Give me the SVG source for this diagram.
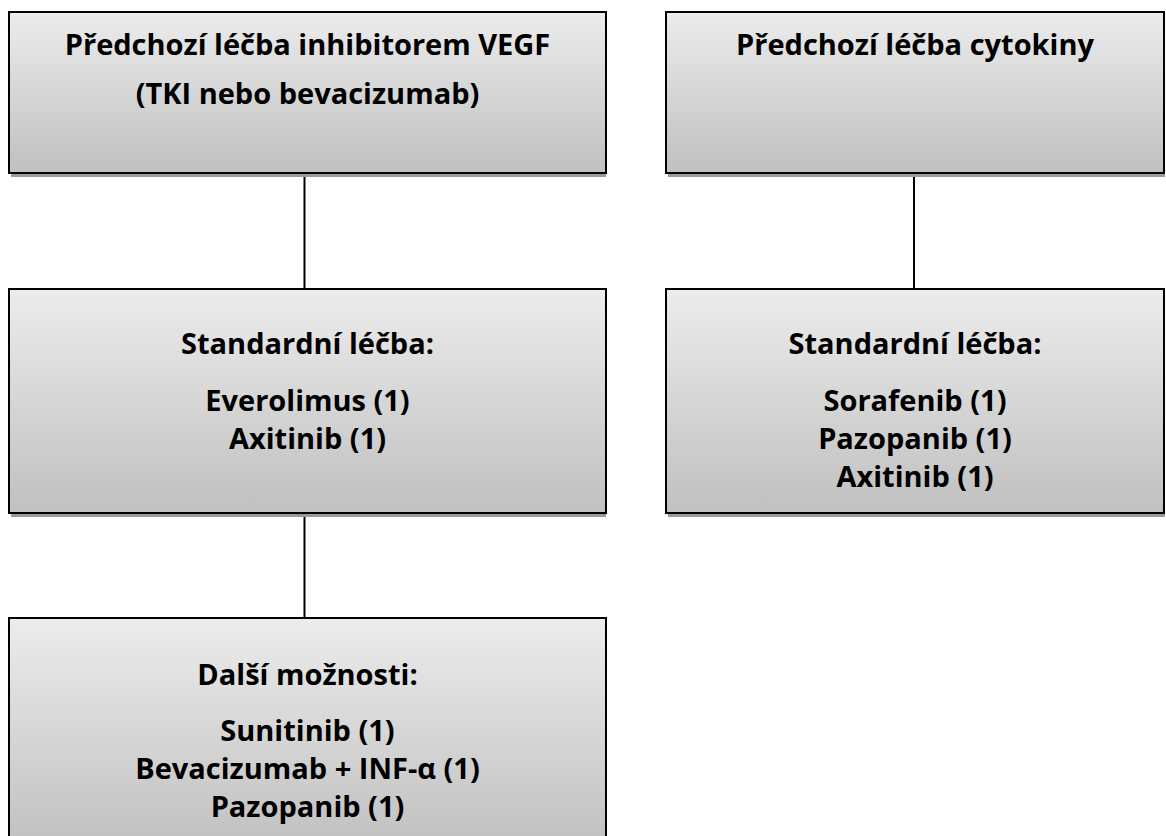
<svg xmlns="http://www.w3.org/2000/svg" width="1166" height="836" viewBox="0 0 1166 836">
  <defs>
    <linearGradient id="boxFill" x1="0" y1="0" x2="0" y2="1">
      <stop offset="0" stop-color="#ececec"/>
      <stop offset="1" stop-color="#c0c0c0"/>
    </linearGradient>
    <style>
      .shadow { fill: #9a9a9a; }
      .box { fill: url(#boxFill); stroke: #000; stroke-width: 2; }
      .label { font-family: "Open Sans", Lato, "Liberation Sans", sans-serif; font-weight: bold; font-size: 29px; fill: #000; text-anchor: middle; }
      .link { stroke: #000; stroke-width: 2; fill: none; }
    </style>
  </defs>
  <rect width="1166" height="836" fill="#fff"/>

  <g id="connectors">
    <line class="link" x1="304.5" y1="174" x2="304.5" y2="289"/>
    <line class="link" x1="914" y1="174" x2="914" y2="289"/>
    <line class="link" x1="304.5" y1="514" x2="304.5" y2="618"/>
  </g>

  <g id="node-vegf">
    <rect class="shadow" x="11" y="173" width="595" height="4"/>
    <rect class="box" x="9" y="12" width="597" height="161"/>
    <text class="label" x="307.5" y="55">Předchozí léčba inhibitorem VEGF</text>
    <text class="label" x="307.5" y="104">(TKI nebo bevacizumab)</text>
  </g>

  <g id="node-cytokiny">
    <rect class="shadow" x="668" y="173" width="497" height="4"/>
    <rect class="box" x="666" y="12" width="498" height="161"/>
    <text class="label" x="915" y="55">Předchozí léčba cytokiny</text>
  </g>

  <g id="node-standard-vegf">
    <rect class="shadow" x="11" y="513" width="595" height="4"/>
    <rect class="box" x="9" y="289" width="597" height="224"/>
    <text class="label" x="307.5" y="354">Standardní léčba:</text>
    <text class="label" x="307.5" y="411">Everolimus (1)</text>
    <text class="label" x="307.5" y="449">Axitinib (1)</text>
  </g>

  <g id="node-standard-cytokiny">
    <rect class="shadow" x="668" y="513" width="497" height="4"/>
    <rect class="box" x="666" y="289" width="498" height="224"/>
    <text class="label" x="915" y="354">Standardní léčba:</text>
    <text class="label" x="915" y="411">Sorafenib (1)</text>
    <text class="label" x="915" y="449">Pazopanib (1)</text>
    <text class="label" x="915" y="487">Axitinib (1)</text>
  </g>

  <g id="node-dalsi">
    <rect class="box" x="9" y="618" width="597" height="230"/>
    <text class="label" x="307.5" y="685">Další možnosti:</text>
    <text class="label" x="307.5" y="741">Sunitinib (1)</text>
    <text class="label" x="307.5" y="779">Bevacizumab + INF-α (1)</text>
    <text class="label" x="307.5" y="817">Pazopanib (1)</text>
  </g>
</svg>
